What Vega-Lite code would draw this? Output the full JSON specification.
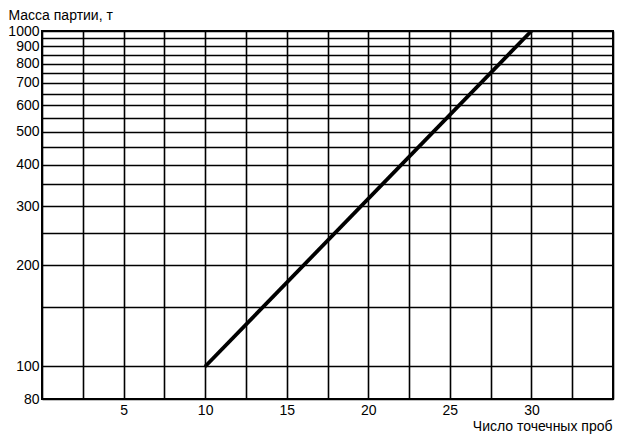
{
  "$schema": "https://vega.github.io/schema/vega-lite/v6.json",
  "autosize": "none",
  "width": 571,
  "height": 368,
  "padding": {"left": 42, "top": 31, "right": 11, "bottom": 36},
  "background": "white",
  "config": {
    "view": {"stroke": "#000", "strokeWidth": 2},
    "font": "Liberation Sans",
    "axis": {
      "grid": true,
      "gridColor": "#000",
      "gridWidth": 1.6,
      "gridOpacity": 1,
      "domain": false,
      "ticks": false,
      "labelColor": "#000",
      "labelFontSize": 14,
      "labelFont": "Liberation Sans",
      "titleFont": "Liberation Sans",
      "titleFontSize": 14,
      "titleFontWeight": "normal",
      "titleColor": "#000"
    }
  },
  "data": {
    "values": [
      {"n": 10, "mass": 100},
      {"n": 30, "mass": 1000}
    ]
  },
  "mark": {"type": "line", "color": "#000", "strokeWidth": 3.8, "clip": true},
  "encoding": {
    "x": {
      "field": "n",
      "type": "quantitative",
      "scale": {"domain": [0, 35], "nice": false, "zero": false},
      "axis": {
        "values": [0, 2.5, 5, 7.5, 10, 12.5, 15, 17.5, 20, 22.5, 25, 27.5, 30, 32.5, 35],
        "labelExpr": "(datum.value % 5 == 0 && datum.value > 0 && datum.value < 35) ? datum.label : ''",
        "labelPadding": 4,
        "labelFlush": false,
        "labelOverlap": false,
        "title": "Число точечных проб",
        "titleAnchor": "end",
        "titleAlign": "right",
        "titleX": 570,
        "titleY": 31,
        "titleBaseline": "alphabetic"
      }
    },
    "y": {
      "field": "mass",
      "type": "quantitative",
      "scale": {"type": "log", "domain": [80, 1000], "nice": false},
      "axis": {
        "values": [80, 100, 150, 200, 250, 300, 350, 400, 450, 500, 550, 600, 650, 700, 750, 800, 850, 900, 950, 1000],
        "labelExpr": "(datum.value == 80 || datum.value % 100 == 0) ? format(datum.value, 'd') : ''",
        "labelPadding": 3,
        "labelFlush": false,
        "labelOverlap": false,
        "title": "Масса партии, т",
        "titleAngle": 0,
        "titleAlign": "left",
        "titleBaseline": "alphabetic",
        "titleX": -34,
        "titleY": -12
      }
    }
  }
}
